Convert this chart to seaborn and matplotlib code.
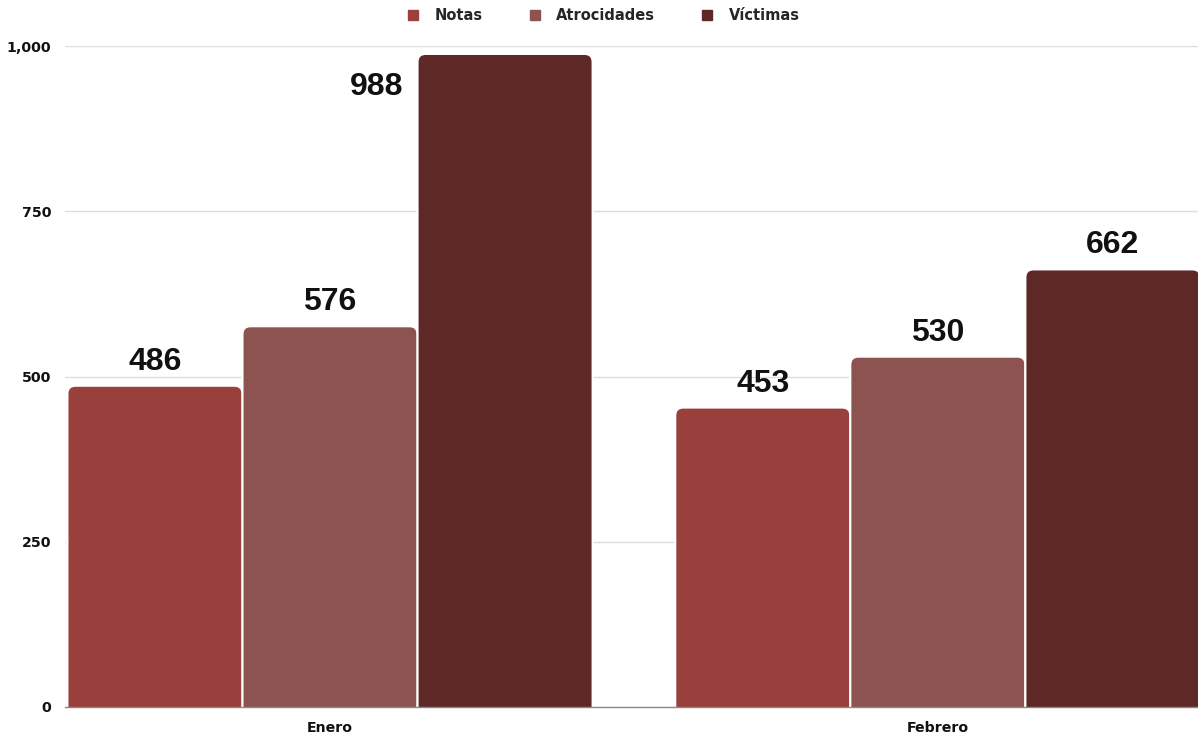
import matplotlib
matplotlib.use("Agg")
import matplotlib.pyplot as plt
from matplotlib.lines import Line2D
from matplotlib.patches import FancyBboxPatch
import seaborn as sns
import pandas as pd

# data
months = ["Enero", "Febrero"]
series = ["Notas", "Atrocidades", "Víctimas"]
notas = [486, 453]
atrocidades = [576, 530]
victimas = [988, 662]
colors = ["#993f3c", "#8d5350", "#5e2826"]

rows = []
for i, m in enumerate(months):
    for s, vals in zip(series, [notas, atrocidades, victimas]):
        rows.append({"Mes": m, "Serie": s, "Valor": vals[i]})
df = pd.DataFrame(rows)

sns.set_style("white")
plt.rcParams["font.family"] = ["Liberation Sans", "DejaVu Sans"]

fig = plt.figure(figsize=(11.98, 7.38), dpi=100)
ax = fig.add_axes([65 / 1198, 31 / 738, 1 - 65 / 1198, 661 / 738])

sns.barplot(data=df, x="Mes", y="Valor", hue="Serie", palette=colors,
            width=0.864, edgecolor="white", linewidth=1.5, saturation=1,
            legend=False, ax=ax)

ax.set_ylim(0, 1000)
ax.set_xlim(-0.436, 1.428)
ax.set_yticks([0, 250, 500, 750, 1000])
ax.set_yticklabels(["0", "250", "500", "750", "1,000"])
ax.yaxis.grid(True, color="#dddddd", linewidth=1)
ax.set_axisbelow(True)
for side in ["top", "right", "left"]:
    ax.spines[side].set_visible(False)
ax.spines["bottom"].set_color("#888888")
ax.spines["bottom"].set_linewidth(1)
ax.tick_params(axis="both", length=0, pad=10)
ax.set_xlabel("")
ax.set_ylabel("")
tick_font = ["DejaVu Sans"]
for lab in ax.get_xticklabels() + ax.get_yticklabels():
    lab.set_fontfamily(tick_font)
    lab.set_fontweight("bold")
    lab.set_fontsize(10.2)
    lab.set_color("#111111")

# rounded bar tops: swap the rectangles for rounded boxes
px_per_x = ax.get_window_extent().width / 1.864
px_per_y = ax.get_window_extent().height / 1000
radius = 8 / px_per_x
aspect = px_per_x / px_per_y
bars = [p for p in ax.patches if p.get_height() > 0]
for p in bars:
    x0, w, h = p.get_x(), p.get_width(), p.get_height()
    box = FancyBboxPatch((x0, -30), w, h + 30,
                         boxstyle=f"round,pad=0,rounding_size={radius}",
                         mutation_aspect=aspect, facecolor=p.get_facecolor(),
                         edgecolor="white", linewidth=1.5, zorder=p.get_zorder())
    p.set_visible(False)
    ax.add_patch(box)

    xc = x0 + w / 2
    if h > 950:
        ax.annotate(f"{int(h)}", (x0, h), xytext=(-14, -18),
                    textcoords="offset pixels", ha="right", va="top",
                    fontsize=23, fontweight="bold", color="#111111")
    else:
        ax.annotate(f"{int(h)}", (xc, h), xytext=(0, 9),
                    textcoords="offset pixels", ha="center", va="bottom",
                    fontsize=23, fontweight="bold", color="#111111")

handles = [Line2D([0], [0], marker="s", linestyle="", markersize=7,
                  markerfacecolor=c, markeredgecolor=c) for c in colors]
fig.legend(handles, series, loc="upper center", bbox_to_anchor=(0.5, 1.007),
           ncol=3, frameon=False, handletextpad=0.45, columnspacing=2.6,
           prop={"family": tick_font, "weight": "bold", "size": 10.5})

fig.savefig("out.png", dpi=100)
